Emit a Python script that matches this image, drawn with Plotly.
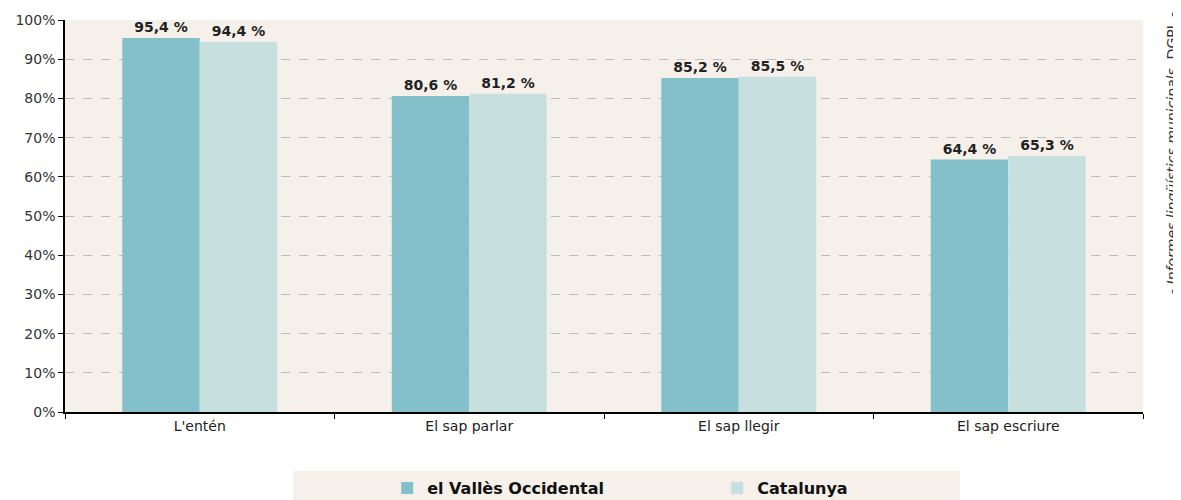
import plotly.graph_objects as go

categories = ["L'entén", "El sap parlar", "El sap llegir", "El sap escriure"]
valles = [95.4, 80.6, 85.2, 64.4]
catalunya = [94.4, 81.2, 85.5, 65.3]
series_names = ["el Vallès Occidental", "Catalunya"]
y_ticks = [0, 10, 20, 30, 40, 50, 60, 70, 80, 90, 100]
y_labels = [f"{v}%" for v in y_ticks]

BG = "#F5F0EA"
C1 = "#84C0CA"
C2 = "#C8DFDF"
FONT = "DejaVu Sans"

def fmt(v):
    return f"{v:.1f}".replace(".", ",") + " %"

fig = go.Figure()
for name, vals, col in [(series_names[0], valles, C1), (series_names[1], catalunya, C2)]:
    fig.add_trace(go.Bar(
        x=categories, y=vals, name=name, marker=dict(color=col, line=dict(width=0)),
        text=[fmt(v) for v in vals], textposition="outside", cliponaxis=False,
        textfont=dict(family=FONT, size=14, color="#222222", weight="bold"),
    ))

# page body has an 8px margin; compensate so the plot lands where the reference has it
fig.update_layout(
    width=1173, height=492,
    margin=dict(l=57, r=38, t=12, b=88, autoexpand=False),
    paper_bgcolor="white", plot_bgcolor=BG,
    barmode="group", bargap=0.425, bargroupgap=0,
    font=dict(family=FONT, size=13, color="#333333"),
    showlegend=True,
    legend=dict(orientation="h", x=0.605, xanchor="center", y=-0.194, yanchor="middle",
                bgcolor="rgba(0,0,0,0)", font=dict(family=FONT, size=16, color="#111111", weight="bold"),
                entrywidth=285, itemwidth=30),
)
fig.update_yaxes(range=[0, 100], tickvals=y_ticks, ticktext=y_labels, showgrid=True, automargin=False,
                 gridcolor="#BDBDBD", griddash="dash", gridwidth=1,
                 showline=True, linecolor="black", linewidth=1.5, ticks="outside", ticklen=5,
                 tickcolor="black", tickfont=dict(size=14, color="#333333"), zeroline=False)
fig.update_xaxes(showline=True, linecolor="black", linewidth=1.5, ticks="outside", ticklen=5, automargin=False,
                 tickcolor="black", tickson="boundaries", tickfont=dict(size=14, color="#222222"))

fig.add_shape(type="rect", xref="paper", yref="paper", x0=0.2115, x1=0.830, y0=-0.1505, y1=-0.25,
              fillcolor=BG, line=dict(width=0), layer="below")

fig.add_annotation(xref="paper", yref="paper", x=1.027, y=0.661, xanchor="center", yanchor="middle",
                   textangle=-90, showarrow=False,
                   text="- <i>Informes lingüístics municipals.</i> DGPL -",
                   font=dict(family=FONT, size=14, color="#333333"))

fig.write_html("out.html")
